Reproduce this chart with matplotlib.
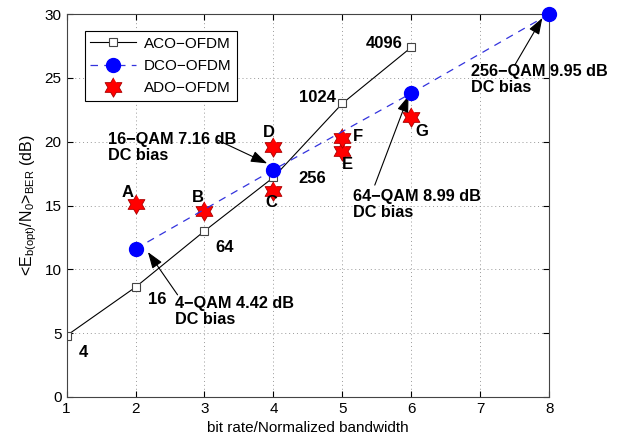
import numpy as np
import matplotlib
matplotlib.use('Agg')
import matplotlib.pyplot as plt
from matplotlib.path import Path

plt.rcParams['font.family'] = ['Liberation Sans', 'DejaVu Sans']
plt.rcParams['mathtext.default'] = 'regular'

# data
aco_x = [1, 2, 3, 4, 5, 6]
aco_y = [4.8, 8.6, 13.0, 17.2, 23.0, 27.4]
aco_lbl = ['4', '16', '64', '256', '1024', '4096']
aco_lbl_pos = [(1.18, 3.5), (2.18, 7.6), (3.16, 11.7), (4.36, 17.1), (4.9, 23.5), (5.88, 27.7)]
aco_lbl_ha = ['left', 'left', 'left', 'left', 'right', 'right']

dco_x = [2, 4, 6, 8]
dco_y = [11.6, 17.8, 23.8, 30.0]

ado_x = [2, 3, 4, 4, 5, 5, 6]
ado_y = [15.1, 14.6, 16.1, 19.6, 19.3, 20.3, 21.9]
ado_lbl = ['A', 'B', 'C', 'D', 'E', 'F', 'G']
ado_lbl_pos = [(1.89, 16.0), (2.9, 15.6), (3.97, 15.2), (3.93, 20.7), (5.07, 18.2), (5.23, 20.4), (6.15, 20.8)]

notes = ['4\u2212QAM 4.42 dB\nDC bias', '16\u2212QAM 7.16 dB\nDC bias',
         '64\u2212QAM 8.99 dB\nDC bias', '256\u2212QAM 9.95 dB\nDC bias']
note_text = [(2.57, 7.9), (1.6, 20.8), (5.15, 16.3), (6.86, 26.1)]
note_tail = [(2.61, 8.0), (3.2, 20.1), (5.47, 16.6), (7.5, 26.0)]
note_head = [(2.18, 11.35), (3.91, 18.3), (5.96, 23.6), (7.9, 29.7)]

# six-pointed star marker
ang = np.pi / 2 + np.arange(12) * np.pi / 6
rad = np.where(np.arange(12) % 2 == 0, 1.0, 0.58)
star = Path(np.column_stack([rad * np.cos(ang), rad * np.sin(ang)]))

fig = plt.figure(figsize=(6.22, 4.41), dpi=100)
ax = fig.add_axes([0.107, 0.1, 0.776, 0.868])

ax.plot(aco_x, aco_y, '-', color='black', lw=0.8, marker='s', ms=6,
        mfc='white', mec='#444444', mew=0.8, label='ACO\u2212OFDM')
ax.plot(dco_x, dco_y, '--', color='#3333dd', lw=0.9, dashes=(6, 5), marker='o', ms=10,
        mfc='blue', mec='blue', label='DCO\u2212OFDM', clip_on=False, zorder=5)
ax.plot(ado_x, ado_y, ls='none', marker=star, ms=14, mfc='red', mec='#aa0000', mew=0.6,
        label='ADO\u2212OFDM')

for t, (px, py), ha in zip(aco_lbl, aco_lbl_pos, aco_lbl_ha):
    ax.text(px, py, t, ha=ha, va='center', fontsize=12, fontweight='bold')
for t, (px, py) in zip(ado_lbl, ado_lbl_pos):
    ax.text(px, py, t, ha='center', va='center', fontsize=12, fontweight='bold')

for t, tp, tl, hd in zip(notes, note_text, note_tail, note_head):
    ax.text(tp[0], tp[1], t, ha='left', va='top', fontsize=11.7, fontweight='bold', linespacing=1.1)
    ax.annotate('', xy=hd, xytext=tl,
                arrowprops=dict(arrowstyle='-|>,head_length=1.0,head_width=0.35',
                                color='black', lw=0.8, shrinkA=0, shrinkB=0))

ax.set_xlim(1, 8)
ax.set_ylim(0, 30)
ax.set_xticks(range(1, 9))
ax.set_yticks(range(0, 31, 5))
ax.tick_params(direction='in', top=True, right=True, labelsize=11, length=4)
ax.grid(True, ls=(0, (1, 3)), color='#999999', lw=0.7)
ax.set_xlabel('bit rate/Normalized bandwidth', fontsize=11)
ax.set_ylabel(r'<E$_{b(opt)}$/N$_0$>$_{BER}$ (dB)', fontsize=11.5)
for s in ax.spines.values():
    s.set_color('#444444')

leg = ax.legend(loc='upper left', bbox_to_anchor=(0.022, 0.975), fontsize=11,
                fancybox=False, edgecolor='black', framealpha=1,
                handlelength=3.0, borderpad=0.35, labelspacing=0.55, handletextpad=0.5)
leg.get_frame().set_linewidth(0.8)

fig.savefig('out.png', dpi=100)
